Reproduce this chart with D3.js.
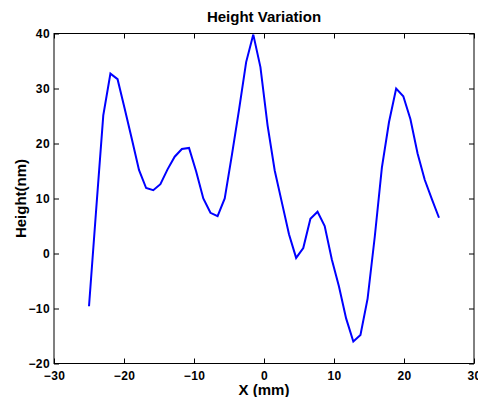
<!DOCTYPE html>
<html>
<head>
<meta charset="utf-8">
<style>
  body { margin: 0; background: #fff; }
  svg text { font-family: "Liberation Sans", Arial, sans-serif; font-weight: bold; }
</style>
</head>
<body>
<div id="chart"></div>
<script src="https://d3js.org/d3.v7.min.js"></script>
<script>
const xValues = [-25, -23.98, -22.96, -21.94, -20.92, -19.9, -18.88, -17.86, -16.84, -15.82,
  -14.8, -13.78, -12.76, -11.73, -10.71, -9.69, -8.67, -7.65, -6.63, -5.61,
  -4.59, -3.57, -2.55, -1.53, -0.51, 0.51, 1.53, 2.55, 3.57, 4.59,
  5.61, 6.63, 7.65, 8.67, 9.69, 10.71, 11.73, 12.76, 13.78, 14.8,
  15.82, 16.84, 17.86, 18.88, 19.9, 20.92, 21.94, 22.96, 23.98, 25];
const heights = [-9.6, 7.9, 25.1, 32.7, 31.7, 26.3, 20.8, 15.2, 11.9, 11.5,
  12.6, 15.3, 17.6, 19.0, 19.2, 14.9, 10.0, 7.4, 6.8, 10.0,
  17.9, 26.1, 34.8, 39.8, 33.9, 23.3, 15.1, 9.3, 3.5, -0.8,
  1.0, 6.3, 7.6, 5.0, -1.1, -6.0, -11.8, -16.0, -14.8, -8.2,
  3.0, 15.6, 23.9, 30.0, 28.6, 24.4, 18.2, 13.4, 9.9, 6.5];
const xTicks = [-30, -20, -10, 0, 10, 20, 30];
const yTicks = [-20, -10, 0, 10, 20, 30, 40];

const width = 478, height = 397;
const margin = { left: 54, right: 4, top: 33.5, bottom: 33.5 };

const svg = d3.select("#chart").append("svg")
  .attr("width", width)
  .attr("height", height);

const x = d3.scaleLinear().domain([-30, 30]).range([margin.left, width - margin.right]);
const y = d3.scaleLinear().domain([-20, 40]).range([height - margin.bottom, margin.top]);

const fmt = d => d < 0 ? "\u2212" + Math.abs(d) : String(d);

// box
svg.append("rect")
  .attr("x", x(-30)).attr("y", y(40))
  .attr("width", x(30) - x(-30)).attr("height", y(-20) - y(40))
  .attr("fill", "none").attr("stroke", "#000").attr("stroke-width", 1);

// axes, ticks pointing inward
const xAxis = svg.append("g")
  .attr("transform", `translate(0,${y(-20)})`)
  .call(d3.axisBottom(x).tickValues(xTicks).tickFormat(fmt).tickSizeInner(-5).tickSizeOuter(0).tickPadding(8));
const xTop = svg.append("g")
  .attr("transform", `translate(0,${y(40)})`)
  .call(d3.axisTop(x).tickValues(xTicks).tickFormat("").tickSizeInner(-5).tickSizeOuter(0));
const yAxis = svg.append("g")
  .attr("transform", `translate(${x(-30)},0)`)
  .call(d3.axisLeft(y).tickValues(yTicks).tickFormat(fmt).tickSizeInner(-5).tickSizeOuter(0).tickPadding(4));
const yRight = svg.append("g")
  .attr("transform", `translate(${x(30)},0)`)
  .call(d3.axisRight(y).tickValues(yTicks).tickFormat("").tickSizeInner(-5).tickSizeOuter(0));

[xAxis, xTop, yAxis, yRight].forEach(g => {
  g.select(".domain").remove();
  g.selectAll("line").attr("stroke", "#000");
  g.selectAll("text").attr("fill", "#000")
    .style("font-size", "12px").style("font-weight", "bold")
    .style("letter-spacing", "0.4px")
    .style("font-family", "'Liberation Sans', Arial, sans-serif");
});

// data line
const line = d3.line()
  .x((d, i) => x(xValues[i]))
  .y(d => y(d));

svg.append("path")
  .datum(heights)
  .attr("d", line)
  .attr("fill", "none")
  .attr("stroke", "#0000ff")
  .attr("stroke-width", 2)
  .attr("stroke-linejoin", "miter");

// labels
svg.append("text")
  .attr("x", (x(-30) + x(30)) / 2).attr("y", 22)
  .attr("text-anchor", "middle")
  .style("font-size", "15px")
  .text("Height Variation");

svg.append("text")
  .attr("x", (x(-30) + x(30)) / 2).attr("y", 395)
  .attr("text-anchor", "middle")
  .style("font-size", "15px")
  .text("X (mm)");

svg.append("text")
  .attr("transform", `translate(26,${(y(-20) + y(40)) / 2}) rotate(-90)`)
  .attr("text-anchor", "middle")
  .style("font-size", "15px")
  .text("Height(nm)");
</script>
</body>
</html>
